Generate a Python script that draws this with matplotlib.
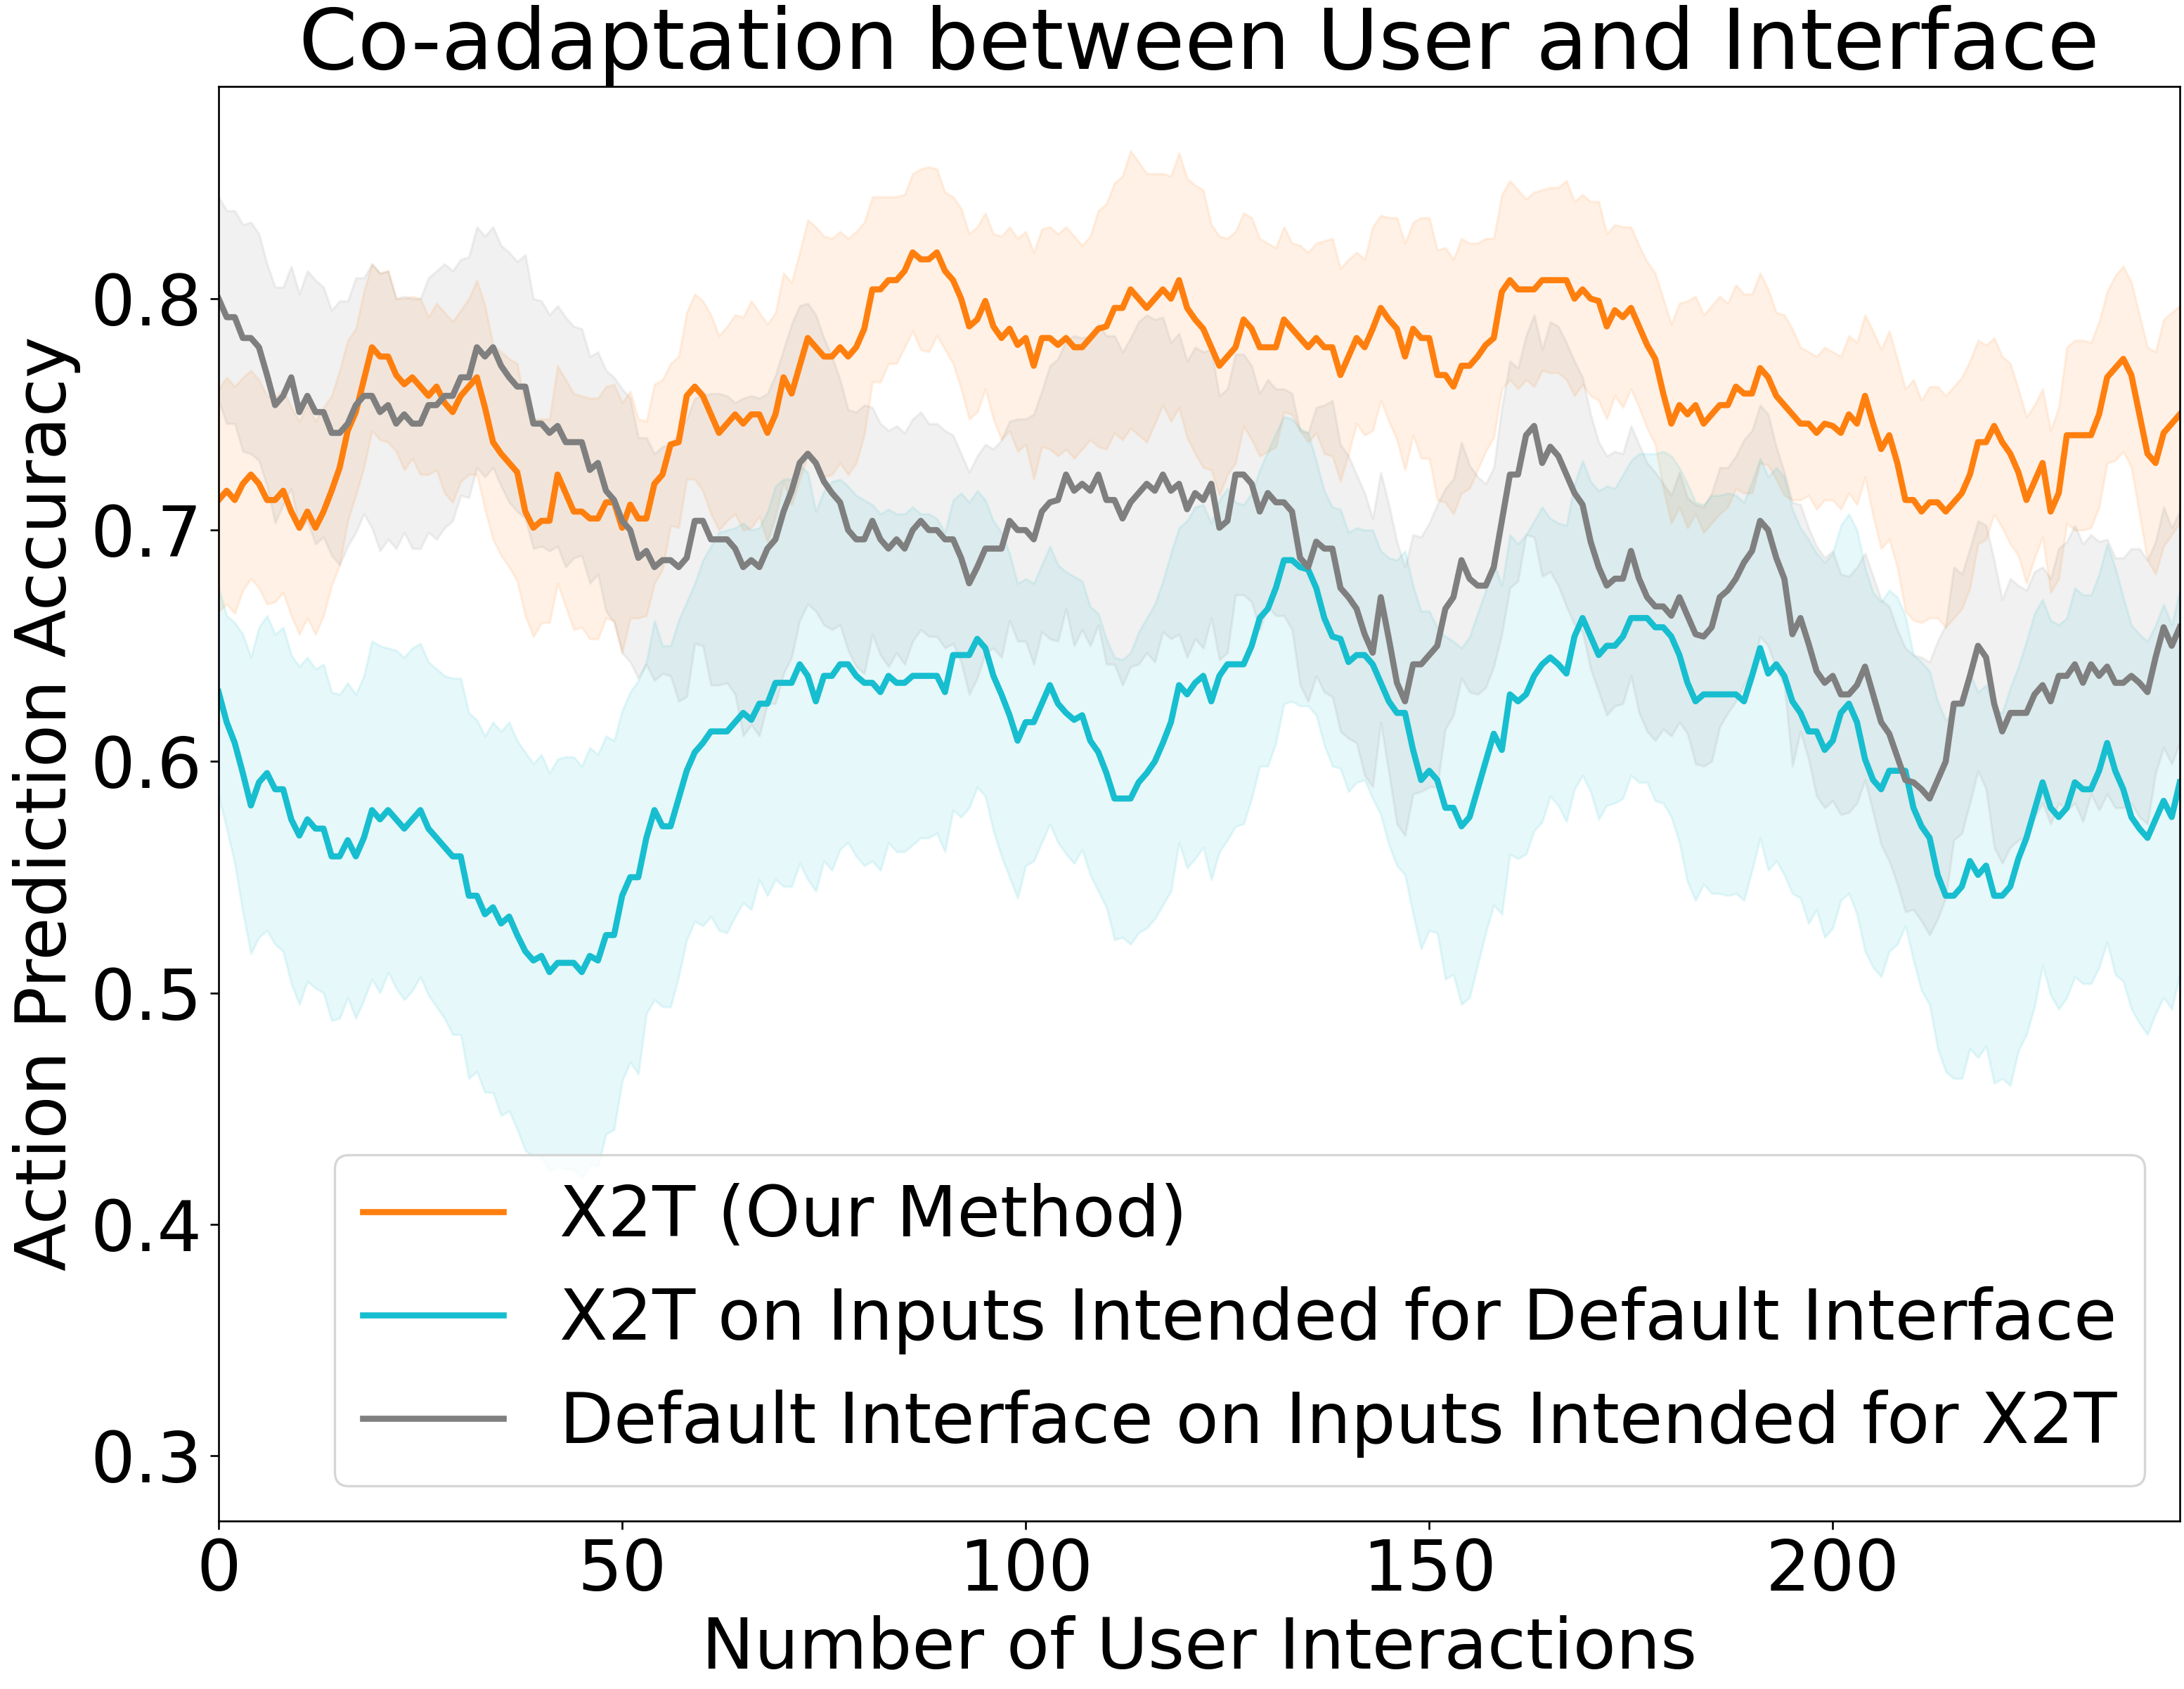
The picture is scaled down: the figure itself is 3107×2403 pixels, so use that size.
import numpy as np
import matplotlib
matplotlib.use("Agg")
import matplotlib.pyplot as plt

# ---------------- data ----------------
labels = ["X2T (Our Method)",
          "X2T on Inputs Intended for Default Interface",
          "Default Interface on Inputs Intended for X2T"]

x2t_mean = [
    0.713, 0.717, 0.713, 0.720, 0.724, 0.720, 0.713, 0.713, 0.717, 0.708, 0.701, 0.708, 0.701, 0.708, 0.717, 0.727, 0.743, 0.751, 0.765, 0.779, 0.775, 0.775, 0.767, 0.763, 0.766, 0.762, 0.758, 0.762, 0.755, 0.751, 0.758, 0.762, 0.766, 0.753, 0.738, 0.733, 0.729, 0.725, 0.708, 0.701, 0.704,
    0.704, 0.724, 0.716, 0.708, 0.708, 0.705, 0.705, 0.712, 0.712, 0.701, 0.711, 0.705, 0.705, 0.720, 0.724, 0.737, 0.738, 0.758, 0.762, 0.758, 0.750, 0.742, 0.746, 0.750, 0.746, 0.750, 0.750, 0.742, 0.750, 0.766, 0.759, 0.771, 0.783, 0.779, 0.775, 0.775, 0.779, 0.775, 0.779, 0.787,
    0.804, 0.804, 0.808, 0.808, 0.812, 0.820, 0.817, 0.817, 0.820, 0.812, 0.808, 0.800, 0.788, 0.791, 0.799, 0.788, 0.783, 0.787, 0.780, 0.783, 0.771, 0.783, 0.783, 0.780, 0.783, 0.779, 0.779, 0.783, 0.787, 0.788, 0.796, 0.796, 0.804, 0.800, 0.796, 0.800, 0.804, 0.800, 0.808, 0.796,
    0.791, 0.787, 0.779, 0.771, 0.775, 0.779, 0.791, 0.787, 0.779, 0.779, 0.779, 0.791, 0.787, 0.783, 0.779, 0.783, 0.779, 0.779, 0.767, 0.775, 0.783, 0.779, 0.787, 0.796, 0.791, 0.787, 0.775, 0.787, 0.783, 0.783, 0.767, 0.767, 0.762, 0.771, 0.771, 0.775, 0.780, 0.783, 0.803, 0.808,
    0.804, 0.804, 0.804, 0.808, 0.808, 0.808, 0.808, 0.800, 0.804, 0.800, 0.799, 0.788, 0.795, 0.792, 0.796, 0.788, 0.780, 0.774, 0.759, 0.746, 0.754, 0.750, 0.754, 0.746, 0.750, 0.754, 0.754, 0.762, 0.759, 0.759, 0.770, 0.766, 0.758, 0.754, 0.750, 0.746, 0.746, 0.742, 0.746, 0.745,
    0.742, 0.750, 0.746, 0.758, 0.746, 0.735, 0.741, 0.729, 0.713, 0.713, 0.708, 0.712, 0.712, 0.708, 0.712, 0.716, 0.724, 0.738, 0.738, 0.745, 0.738, 0.733, 0.725, 0.713, 0.721, 0.729, 0.708, 0.716, 0.741, 0.741, 0.741, 0.741, 0.750, 0.766, 0.770, 0.774, 0.767, 0.750, 0.733, 0.729, 0.742, 0.746, 0.750,
]
x2t_spread = [
    0.048, 0.049, 0.049, 0.046, 0.045, 0.045, 0.045, 0.044, 0.044, 0.045, 0.046, 0.046, 0.046, 0.045, 0.041, 0.042, 0.039, 0.036, 0.038, 0.036, 0.036, 0.037, 0.033, 0.037, 0.035, 0.038, 0.034, 0.036, 0.039, 0.039, 0.037, 0.038, 0.042, 0.044, 0.042, 0.044, 0.045, 0.047, 0.045, 0.047, 0.044,
    0.044, 0.047, 0.049, 0.051, 0.050, 0.052, 0.052, 0.050, 0.051, 0.054, 0.049, 0.043, 0.042, 0.043, 0.041, 0.035, 0.037, 0.036, 0.040, 0.041, 0.043, 0.042, 0.042, 0.043, 0.046, 0.049, 0.044, 0.047, 0.044, 0.045, 0.048, 0.049, 0.051, 0.052, 0.052, 0.051, 0.050, 0.051, 0.050, 0.046,
    0.040, 0.040, 0.036, 0.036, 0.033, 0.034, 0.039, 0.040, 0.036, 0.034, 0.036, 0.039, 0.040, 0.040, 0.038, 0.040, 0.044, 0.044, 0.046, 0.046, 0.049, 0.047, 0.048, 0.048, 0.048, 0.048, 0.044, 0.044, 0.051, 0.053, 0.054, 0.057, 0.060, 0.059, 0.058, 0.054, 0.050, 0.053, 0.055, 0.056,
    0.058, 0.060, 0.053, 0.056, 0.051, 0.050, 0.046, 0.048, 0.047, 0.045, 0.043, 0.040, 0.037, 0.040, 0.041, 0.041, 0.046, 0.047, 0.046, 0.042, 0.037, 0.038, 0.044, 0.040, 0.044, 0.048, 0.049, 0.046, 0.052, 0.052, 0.054, 0.055, 0.055, 0.055, 0.053, 0.049, 0.046, 0.043, 0.042, 0.043,
    0.043, 0.039, 0.042, 0.039, 0.040, 0.040, 0.043, 0.042, 0.041, 0.042, 0.043, 0.040, 0.037, 0.039, 0.035, 0.035, 0.036, 0.037, 0.041, 0.043, 0.044, 0.049, 0.047, 0.047, 0.047, 0.047, 0.044, 0.044, 0.043, 0.043, 0.041, 0.038, 0.036, 0.039, 0.037, 0.033, 0.031, 0.033, 0.033, 0.032,
    0.033, 0.034, 0.035, 0.035, 0.040, 0.043, 0.045, 0.045, 0.048, 0.052, 0.048, 0.050, 0.050, 0.050, 0.050, 0.050, 0.049, 0.044, 0.042, 0.038, 0.037, 0.039, 0.036, 0.036, 0.033, 0.032, 0.035, 0.037, 0.038, 0.041, 0.041, 0.040, 0.040, 0.037, 0.040, 0.040, 0.040, 0.043, 0.046, 0.048, 0.049, 0.048, 0.047,
]

x2t_default_mean = [
    0.630, 0.617, 0.608, 0.595, 0.581, 0.591, 0.595, 0.588, 0.588, 0.575, 0.568, 0.575, 0.571, 0.571, 0.559, 0.559, 0.566, 0.559, 0.567, 0.579, 0.575, 0.579, 0.575, 0.571, 0.575, 0.579, 0.571, 0.567, 0.563, 0.559, 0.559, 0.542, 0.542, 0.534, 0.537, 0.530, 0.533, 0.525, 0.518, 0.514, 0.516,
    0.509, 0.513, 0.513, 0.513, 0.509, 0.516, 0.514, 0.525, 0.525, 0.542, 0.550, 0.550, 0.567, 0.579, 0.572, 0.572, 0.584, 0.596, 0.604, 0.608, 0.613, 0.613, 0.613, 0.617, 0.621, 0.618, 0.625, 0.625, 0.634, 0.634, 0.634, 0.642, 0.637, 0.626, 0.637, 0.637, 0.642, 0.642, 0.637, 0.634,
    0.634, 0.630, 0.637, 0.634, 0.634, 0.637, 0.637, 0.637, 0.637, 0.630, 0.646, 0.646, 0.646, 0.653, 0.649, 0.637, 0.629, 0.620, 0.609, 0.617, 0.617, 0.625, 0.633, 0.625, 0.621, 0.618, 0.620, 0.609, 0.604, 0.595, 0.584, 0.584, 0.584, 0.591, 0.595, 0.600, 0.608, 0.617, 0.633, 0.629,
    0.634, 0.637, 0.626, 0.637, 0.642, 0.642, 0.642, 0.650, 0.662, 0.666, 0.675, 0.687, 0.687, 0.684, 0.683, 0.675, 0.662, 0.654, 0.653, 0.643, 0.646, 0.646, 0.642, 0.634, 0.626, 0.621, 0.621, 0.605, 0.592, 0.596, 0.592, 0.580, 0.580, 0.572, 0.576, 0.588, 0.600, 0.612, 0.605, 0.629,
    0.626, 0.629, 0.637, 0.642, 0.645, 0.642, 0.638, 0.654, 0.662, 0.654, 0.646, 0.650, 0.650, 0.654, 0.662, 0.662, 0.662, 0.658, 0.658, 0.654, 0.646, 0.634, 0.626, 0.629, 0.629, 0.629, 0.629, 0.629, 0.626, 0.637, 0.649, 0.638, 0.642, 0.637, 0.626, 0.621, 0.613, 0.613, 0.605, 0.609,
    0.621, 0.625, 0.617, 0.601, 0.592, 0.588, 0.596, 0.596, 0.596, 0.580, 0.572, 0.567, 0.551, 0.542, 0.542, 0.546, 0.557, 0.551, 0.555, 0.542, 0.542, 0.546, 0.558, 0.567, 0.579, 0.591, 0.580, 0.576, 0.580, 0.591, 0.588, 0.588, 0.596, 0.608, 0.596, 0.588, 0.576, 0.571, 0.567, 0.575, 0.583, 0.576, 0.591,
]
x2t_default_spread = [
    0.045, 0.046, 0.052, 0.060, 0.064, 0.067, 0.068, 0.067, 0.070, 0.071, 0.073, 0.070, 0.069, 0.071, 0.071, 0.070, 0.068, 0.070, 0.070, 0.073, 0.075, 0.070, 0.073, 0.074, 0.074, 0.072, 0.072, 0.073, 0.074, 0.077, 0.077, 0.079, 0.076, 0.077, 0.080, 0.083, 0.084, 0.084, 0.086, 0.085, 0.087,
    0.086, 0.088, 0.089, 0.089, 0.089, 0.090, 0.089, 0.086, 0.084, 0.080, 0.080, 0.085, 0.076, 0.082, 0.078, 0.078, 0.077, 0.073, 0.073, 0.079, 0.080, 0.086, 0.087, 0.084, 0.082, 0.082, 0.076, 0.083, 0.085, 0.088, 0.088, 0.086, 0.088, 0.082, 0.080, 0.084, 0.080, 0.077, 0.078, 0.079,
    0.077, 0.077, 0.072, 0.073, 0.073, 0.073, 0.070, 0.070, 0.068, 0.069, 0.067, 0.070, 0.066, 0.064, 0.064, 0.067, 0.070, 0.070, 0.068, 0.062, 0.060, 0.060, 0.060, 0.060, 0.061, 0.062, 0.058, 0.058, 0.060, 0.058, 0.061, 0.060, 0.063, 0.065, 0.067, 0.068, 0.070, 0.073, 0.068, 0.075,
    0.076, 0.074, 0.077, 0.076, 0.076, 0.070, 0.069, 0.066, 0.064, 0.068, 0.067, 0.062, 0.061, 0.060, 0.059, 0.055, 0.055, 0.056, 0.056, 0.056, 0.055, 0.054, 0.058, 0.057, 0.062, 0.066, 0.070, 0.071, 0.073, 0.069, 0.066, 0.074, 0.072, 0.077, 0.078, 0.076, 0.074, 0.074, 0.071, 0.069,
    0.068, 0.069, 0.067, 0.068, 0.060, 0.061, 0.064, 0.066, 0.068, 0.067, 0.071, 0.069, 0.068, 0.070, 0.068, 0.071, 0.071, 0.075, 0.076, 0.078, 0.081, 0.086, 0.086, 0.082, 0.086, 0.086, 0.087, 0.086, 0.086, 0.084, 0.082, 0.085, 0.085, 0.086, 0.083, 0.080, 0.083, 0.077, 0.081, 0.081,
    0.081, 0.082, 0.083, 0.083, 0.081, 0.081, 0.078, 0.075, 0.067, 0.066, 0.071, 0.072, 0.075, 0.076, 0.079, 0.083, 0.081, 0.079, 0.078, 0.081, 0.079, 0.086, 0.083, 0.085, 0.085, 0.079, 0.081, 0.083, 0.082, 0.084, 0.084, 0.084, 0.085, 0.086, 0.088, 0.083, 0.083, 0.084, 0.085, 0.084, 0.085, 0.083, 0.083,
]

default_x2t_mean = [
    0.800, 0.792, 0.792, 0.783, 0.783, 0.779, 0.767, 0.754, 0.758, 0.766, 0.751, 0.758, 0.751, 0.751, 0.742, 0.742, 0.746, 0.754, 0.758, 0.758, 0.751, 0.754, 0.746, 0.750, 0.746, 0.746, 0.754, 0.754, 0.758, 0.758, 0.766, 0.766, 0.779, 0.775, 0.779, 0.771, 0.766, 0.762, 0.762, 0.746, 0.746,
    0.742, 0.745, 0.738, 0.738, 0.738, 0.726, 0.729, 0.717, 0.713, 0.704, 0.700, 0.688, 0.691, 0.684, 0.687, 0.687, 0.684, 0.688, 0.704, 0.704, 0.696, 0.696, 0.696, 0.692, 0.684, 0.687, 0.684, 0.692, 0.696, 0.708, 0.717, 0.729, 0.733, 0.729, 0.721, 0.716, 0.712, 0.700, 0.696, 0.696,
    0.704, 0.696, 0.692, 0.696, 0.692, 0.700, 0.704, 0.700, 0.700, 0.696, 0.696, 0.688, 0.677, 0.684, 0.692, 0.692, 0.692, 0.704, 0.700, 0.700, 0.696, 0.708, 0.712, 0.713, 0.724, 0.717, 0.720, 0.717, 0.724, 0.713, 0.713, 0.705, 0.712, 0.716, 0.720, 0.717, 0.724, 0.717, 0.720, 0.709,
    0.716, 0.713, 0.720, 0.701, 0.704, 0.724, 0.724, 0.720, 0.708, 0.716, 0.712, 0.712, 0.708, 0.688, 0.684, 0.695, 0.692, 0.692, 0.675, 0.671, 0.666, 0.655, 0.647, 0.671, 0.653, 0.634, 0.626, 0.642, 0.642, 0.646, 0.650, 0.666, 0.671, 0.687, 0.679, 0.676, 0.676, 0.684, 0.704, 0.724,
    0.724, 0.741, 0.745, 0.729, 0.736, 0.732, 0.724, 0.716, 0.711, 0.695, 0.684, 0.676, 0.679, 0.679, 0.691, 0.679, 0.671, 0.667, 0.667, 0.663, 0.671, 0.663, 0.655, 0.654, 0.658, 0.671, 0.674, 0.679, 0.686, 0.691, 0.704, 0.700, 0.688, 0.679, 0.655, 0.662, 0.651, 0.639, 0.634, 0.637,
    0.629, 0.629, 0.633, 0.641, 0.629, 0.617, 0.612, 0.602, 0.592, 0.591, 0.588, 0.584, 0.592, 0.600, 0.625, 0.625, 0.637, 0.650, 0.645, 0.625, 0.613, 0.621, 0.621, 0.621, 0.629, 0.633, 0.626, 0.637, 0.637, 0.642, 0.634, 0.642, 0.637, 0.641, 0.634, 0.634, 0.637, 0.634, 0.630, 0.645, 0.658, 0.650, 0.658,
]
default_x2t_spread = [
    0.044, 0.046, 0.046, 0.049, 0.050, 0.049, 0.048, 0.051, 0.047, 0.048, 0.051, 0.054, 0.057, 0.054, 0.053, 0.057, 0.053, 0.055, 0.051, 0.057, 0.060, 0.058, 0.054, 0.051, 0.054, 0.054, 0.055, 0.058, 0.057, 0.054, 0.051, 0.052, 0.052, 0.052, 0.052, 0.052, 0.054, 0.054, 0.057, 0.054, 0.053,
    0.051, 0.052, 0.054, 0.050, 0.049, 0.049, 0.048, 0.052, 0.053, 0.057, 0.057, 0.052, 0.049, 0.049, 0.049, 0.050, 0.058, 0.060, 0.053, 0.054, 0.063, 0.063, 0.062, 0.063, 0.073, 0.071, 0.073, 0.067, 0.071, 0.070, 0.072, 0.068, 0.065, 0.064, 0.062, 0.059, 0.053, 0.052, 0.055, 0.058,
    0.049, 0.050, 0.051, 0.049, 0.050, 0.048, 0.047, 0.046, 0.046, 0.047, 0.045, 0.045, 0.048, 0.048, 0.045, 0.043, 0.047, 0.043, 0.048, 0.048, 0.054, 0.052, 0.059, 0.061, 0.058, 0.067, 0.063, 0.067, 0.065, 0.071, 0.071, 0.072, 0.071, 0.074, 0.073, 0.074, 0.068, 0.064, 0.065, 0.064,
    0.063, 0.064, 0.058, 0.057, 0.057, 0.052, 0.052, 0.051, 0.051, 0.049, 0.049, 0.049, 0.051, 0.055, 0.058, 0.058, 0.062, 0.064, 0.062, 0.061, 0.058, 0.061, 0.058, 0.054, 0.058, 0.061, 0.058, 0.056, 0.055, 0.057, 0.061, 0.052, 0.051, 0.051, 0.049, 0.047, 0.044, 0.043, 0.049, 0.049,
    0.046, 0.043, 0.048, 0.049, 0.054, 0.056, 0.057, 0.057, 0.055, 0.055, 0.054, 0.056, 0.055, 0.054, 0.054, 0.058, 0.058, 0.058, 0.053, 0.052, 0.054, 0.051, 0.056, 0.056, 0.058, 0.056, 0.053, 0.053, 0.053, 0.052, 0.050, 0.050, 0.048, 0.046, 0.057, 0.049, 0.050, 0.054, 0.054, 0.054,
    0.052, 0.051, 0.051, 0.049, 0.051, 0.053, 0.055, 0.055, 0.057, 0.055, 0.057, 0.059, 0.060, 0.059, 0.059, 0.056, 0.055, 0.054, 0.057, 0.062, 0.057, 0.058, 0.055, 0.053, 0.053, 0.051, 0.053, 0.055, 0.058, 0.060, 0.060, 0.056, 0.058, 0.055, 0.054, 0.054, 0.055, 0.058, 0.057, 0.050, 0.052, 0.051, 0.050,
]

colors = ["#ff7f0e", "#17becf", "#7f7f7f"]
x_ticks = [0, 50, 100, 150, 200]
y_ticks = [0.3, 0.4, 0.5, 0.6, 0.7, 0.8]

series = [(x2t_mean, x2t_spread),
          (x2t_default_mean, x2t_default_spread),
          (default_x2t_mean, default_x2t_spread)]
for m, s in series:
    assert len(m) == len(s), (len(m), len(s))

# ---------------- figure ----------------
plt.rcParams["font.family"] = ["DejaVu Sans"]
plt.rcParams["font.size"] = 30

W, H, DPI = 3107, 2403, 240
fig = plt.figure(figsize=(W / DPI, H / DPI), dpi=DPI)
ax = fig.add_axes([311 / W, 1 - 2164 / H, (3101 - 311) / W, (2164 - 123) / H])

for (m, s), c, lab in zip(series, colors, labels):
    m = np.asarray(m)
    s = np.asarray(s)
    x = np.arange(len(m))
    ax.plot(x, m, color=c, lw=2.6, label=lab)
    ax.fill_between(x, m - s, m + s, color=c, alpha=0.1)

n = len(x2t_mean)
ax.set_xlim(0, n - 1)
ax.set_ylim(0.2718, 0.8917)
ax.set_xticks(x_ticks)
ax.set_yticks(y_ticks)
ax.set_xticklabels([str(t) for t in x_ticks])
ax.set_yticklabels([f"{t:.1f}" for t in y_ticks])

ax.set_title("Co-adaptation between User and Interface", fontsize=36)
ax.set_xlabel("Number of User Interactions")
ax.set_ylabel("Action Prediction Accuracy")
ax.legend(loc="lower right")

fig.savefig("out.png", dpi=DPI)
